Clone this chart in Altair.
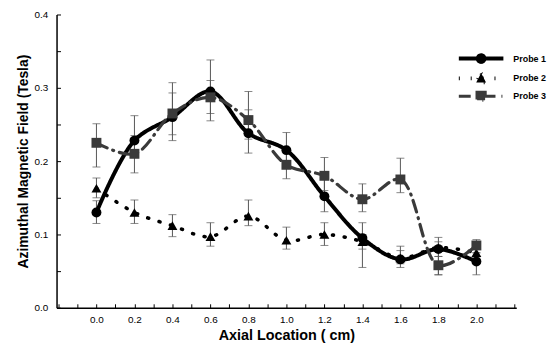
import math
import altair as alt
import pandas as pd

# ---- data ----
x_vals = [0.0, 0.2, 0.4, 0.6, 0.8, 1.0, 1.2, 1.4, 1.6, 1.8, 2.0]
probe_names = ["Probe 1", "Probe 2", "Probe 3"]

probe1 = [0.130, 0.228, 0.260, 0.295, 0.238, 0.215, 0.152, 0.095, 0.066, 0.080, 0.063]
probe1_lo = [0.115, 0.205, 0.228, 0.255, 0.211, 0.195, 0.131, 0.055, 0.055, 0.070, 0.045]
probe1_hi = [0.146, 0.262, 0.307, 0.338, 0.270, 0.239, 0.180, 0.116, 0.084, 0.090, 0.075]

probe2 = [0.163, 0.130, 0.112, 0.097, 0.125, 0.092, 0.100, 0.090, 0.068, 0.082, 0.075]
probe2_lo = [0.150, 0.115, 0.097, 0.084, 0.112, 0.080, 0.085, 0.080, 0.060, 0.045, 0.068]
probe2_hi = [0.177, 0.147, 0.127, 0.116, 0.147, 0.110, 0.116, 0.100, 0.078, 0.096, 0.085]

probe3 = [0.225, 0.210, 0.265, 0.287, 0.256, 0.195, 0.180, 0.148, 0.175, 0.058, 0.085]
probe3_lo = [0.192, 0.184, 0.236, 0.265, 0.230, 0.176, 0.160, 0.131, 0.157, 0.045, 0.075]
probe3_hi = [0.251, 0.235, 0.293, 0.310, 0.295, 0.215, 0.205, 0.169, 0.204, 0.070, 0.093]

x_label_values = x_vals
x_minor_ticks = [round(-0.2 + 0.1 * i, 1) for i in range(25)]
y_label_values = [0.0, 0.1, 0.2, 0.3, 0.4]
y_minor_ticks = [round(0.05 * i, 2) for i in range(9)]

rows = []
for name, v, lo, hi in [("Probe 1", probe1, probe1_lo, probe1_hi),
                        ("Probe 2", probe2, probe2_lo, probe2_hi),
                        ("Probe 3", probe3, probe3_lo, probe3_hi)]:
    for xi, vi, l, h in zip(x_vals, v, lo, hi):
        rows.append({"x": xi, "y": vi, "lo": l, "hi": h, "probe": name})
df = pd.DataFrame(rows)

W, H = 464, 296
FONT = "Liberation Sans"
xs = alt.Scale(domain=[-0.21, 2.21], nice=False, zero=False)
ys = alt.Scale(domain=[0, 0.4], nice=False, zero=False)

marker_shapes = ["circle", "triangle-up", "square"]
marker_colors = ["black", "black", "#3a3a3a"]

# legend symbols: line segment plus the marker of each probe (unit path, scaled by Vega)
_r = 0.75
_poly = "".join(
    ("M" if k == 0 else "L") + f"{_r * math.cos(2 * math.pi * k / 16):.3f},{_r * math.sin(2 * math.pi * k / 16):.3f}"
    for k in range(16)
) + "Z"
legend_symbols = [
    "M-5,0H5" + _poly,
    "M-5,0H5M0,-1.2L1.1,0.9L-1.1,0.9Z",
    "M-5,0H5M-0.9,-0.9H0.9V0.9H-0.9Z",
]

x_main = alt.Axis(values=x_label_values, format=".1f", tickSize=0, labelPadding=7,
                  domainColor="black", domainWidth=1.5, grid=False,
                  title="Axial Location ( cm)", titleFont=FONT, titleFontSize=14.5,
                  titleFontWeight="bold", titleColor="black", titlePadding=4,
                  labelFont=FONT, labelFontSize=10, labelColor="black")
y_main = alt.Axis(values=y_label_values, format=".1f", tickSize=0, labelPadding=9,
                  domainColor="black", domainWidth=1.5, grid=False,
                  title="Azimuthal Magnetic Field (Tesla)", titleFont=FONT, titleFontSize=14,
                  titleFontWeight="bold", titleColor="black", titlePadding=3,
                  labelFont=FONT, labelFontSize=10, labelColor="black")

base = alt.Chart(df)

err = base.mark_errorbar(
    ticks={"size": 8, "color": "#555555", "thickness": 1},
    rule={"color": "#555555", "strokeWidth": 1},
).encode(
    x=alt.X("x:Q", scale=xs, axis=x_main),
    y=alt.Y("lo:Q", scale=ys, axis=y_main),
    y2="hi:Q",
)

leg = alt.Legend(orient="none", legendX=402, legendY=38, title=None, padding=0,
                 symbolSize=81, symbolOffset=20, symbolFillColor="black",
                 labelFont=FONT, labelFontWeight="bold", labelFontSize=9,
                 labelOffset=26, labelColor="black", rowPadding=-5)

color_enc = alt.Color("probe:N", scale=alt.Scale(domain=probe_names, range=marker_colors),
                      legend=leg)

lines = base.mark_line(interpolate="catmull-rom", strokeCap="round").encode(
    x=alt.X("x:Q", scale=xs, axis=None),
    y=alt.Y("y:Q", scale=ys, axis=None),
    strokeDash=alt.StrokeDash("probe:N", scale=alt.Scale(domain=probe_names,
                              range=[[1, 0], [1, 11], [12, 6, 1, 6]]), legend=leg),
    strokeWidth=alt.StrokeWidth("probe:N", scale=alt.Scale(domain=probe_names,
                                range=[4, 3.2, 2.5]), legend=leg),
    color=color_enc,
)

# empty layer that only carries the legend symbols (line + marker)
legend_proxy = base.transform_filter("false").mark_point(filled=True, opacity=1).encode(
    x=alt.X("x:Q", scale=xs, axis=None),
    y=alt.Y("y:Q", scale=ys, axis=None),
    shape=alt.Shape("probe:N", scale=alt.Scale(domain=probe_names, range=legend_symbols),
                    legend=leg),
    color=color_enc,
)

point_layers = []
for name, shp, col in zip(probe_names, marker_shapes, marker_colors):
    point_layers.append(
        base.transform_filter(alt.datum.probe == name)
        .mark_point(filled=True, opacity=1, size=100, shape=shp, color=col)
        .encode(x=alt.X("x:Q", scale=xs, axis=None), y=alt.Y("y:Q", scale=ys, axis=None))
    )

tick_layer = base.mark_point(opacity=0).encode(
    x=alt.X("x:Q", scale=xs, axis=alt.Axis(orient="top", offset=-H, values=x_minor_ticks,
                                            labels=False, domain=False, grid=False,
                                            tickSize=4, tickColor="black", title=None)),
    y=alt.Y("y:Q", scale=ys, axis=alt.Axis(orient="right", offset=-W, values=y_minor_ticks,
                                            labels=False, domain=False, grid=False,
                                            tickSize=4, tickColor="black", title=None)),
)

chart = alt.layer(err, legend_proxy, lines, *point_layers, tick_layer).resolve_axis(
    x="independent", y="independent"
).properties(
    width=W, height=H,
    padding={"left": 9, "top": 0, "right": 0, "bottom": 0},
    background="white",
).configure_view(stroke=None)

chart.save("out.html", embed_options={"renderer": "svg", "actions": False})
